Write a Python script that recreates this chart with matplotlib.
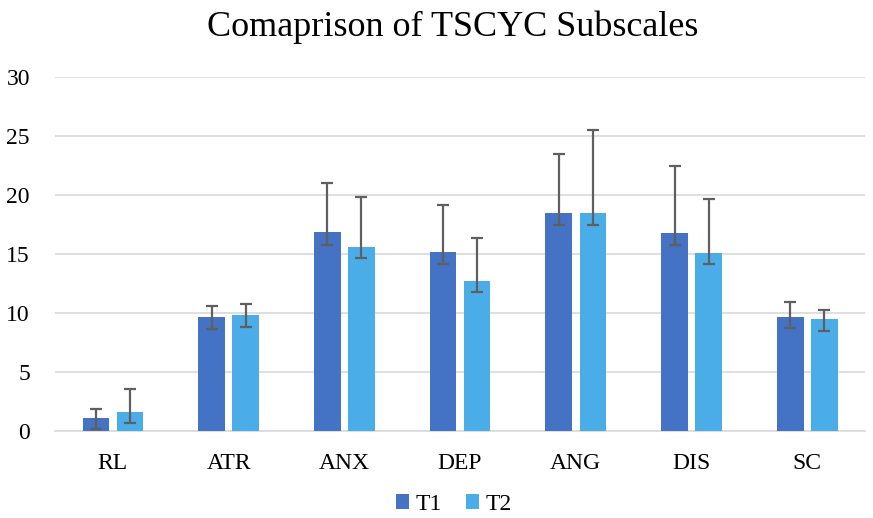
import numpy as np
import matplotlib
matplotlib.use("Agg")
import matplotlib.pyplot as plt

plt.rcParams['font.family'] = ['Liberation Serif', 'DejaVu Serif']

categories = ['RL', 'ATR', 'ANX', 'DEP', 'ANG', 'DIS', 'SC']

t1 = [1.1, 9.7, 16.9, 15.2, 18.5, 16.8, 9.7]
t1_low = [0.17, 8.65, 15.8, 14.2, 17.5, 15.8, 8.7]
t1_high = [1.85, 10.6, 21.0, 19.2, 23.5, 22.5, 10.9]

t2 = [1.6, 9.8, 15.6, 12.7, 18.5, 15.1, 9.5]
t2_low = [0.7, 8.8, 14.7, 11.8, 17.5, 14.2, 8.5]
t2_high = [3.6, 10.8, 19.8, 16.4, 25.5, 19.7, 10.25]

x = np.arange(len(categories))
w = 0.23
off = 0.147

fig = plt.figure(figsize=(8.73, 5.18), dpi=100)
ax = fig.add_axes([0.063, 0.168, 0.928, 0.683])

err1 = [np.array(t1) - np.array(t1_low), np.array(t1_high) - np.array(t1)]
err2 = [np.array(t2) - np.array(t2_low), np.array(t2_high) - np.array(t2)]
ekw = dict(ecolor='#5f5f5f', elinewidth=1.6, capsize=4, capthick=1.6)

ax.bar(x - off, t1, w, color='#4472C4', label='T1', yerr=err1,
       error_kw=ekw, zorder=3)
ax.bar(x + off, t2, w, color='#4BADE8', label='T2', yerr=err2,
       error_kw=ekw, zorder=3)

ax.set_xlim(-0.5, len(categories) - 0.5)
ax.set_ylim(0, 30)
ax.set_yticks(np.arange(0, 31, 5))
ax.set_xticks(x)
ax.set_xticklabels(categories, fontsize=17)
ax.tick_params(axis='y', labelsize=17, length=0, pad=18)
ax.tick_params(axis='x', length=0, pad=16)
ax.grid(axis='y', color='#d9d9d9', linewidth=1.2, zorder=0)
for s in ['top', 'right', 'left']:
    ax.spines[s].set_visible(False)
ax.spines['bottom'].set_color('#d9d9d9')
ax.spines['bottom'].set_linewidth(1.2)

fig.suptitle('Comaprison of TSCYC Subscales', fontsize=26, x=0.518, y=0.98)
fig.legend(loc='lower center', ncol=2, frameon=False, fontsize=17,
           handlelength=0.55, handleheight=0.55, handletextpad=0.3,
           columnspacing=1.0, bbox_to_anchor=(0.52, -0.035))

plt.savefig('out.png', dpi=100)
